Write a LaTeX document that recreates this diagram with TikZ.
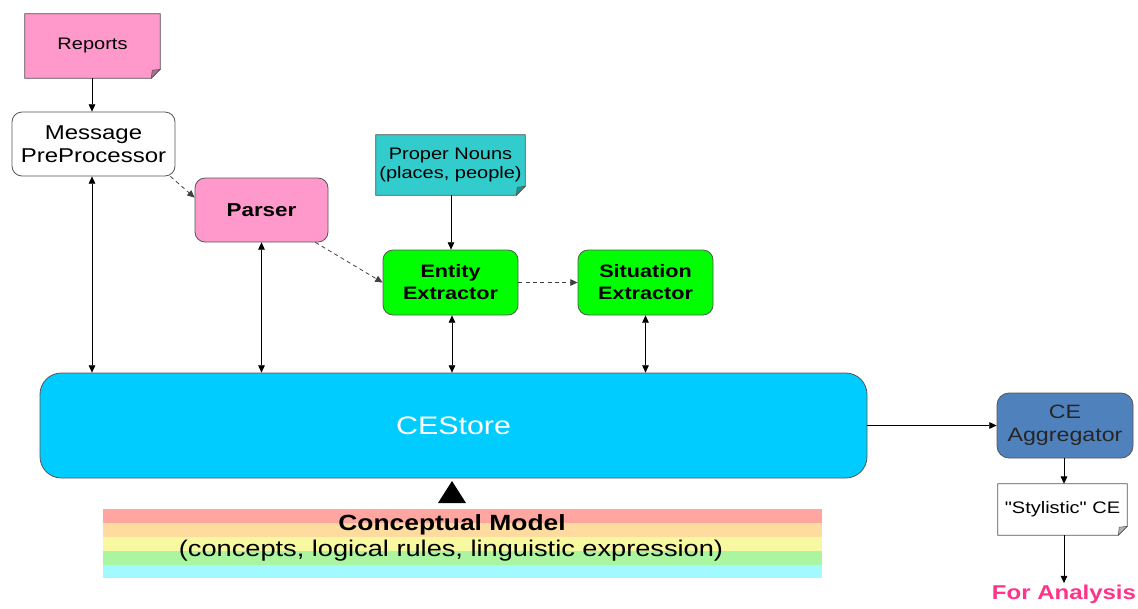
\documentclass[tikz,border=0pt]{standalone}
\usepackage{fontspec}
\setmainfont{Liberation Sans}[FakeStretch=1.2]
% same face without the TeX quote mapping, so " stays a straight quote
\newfontfamily\rawfont{Liberation Sans}[FakeStretch=1.2]
\usetikzlibrary{arrows.meta,calc,backgrounds}

\definecolor{pinkfill}{HTML}{FF99CC}
\definecolor{tealfill}{HTML}{33CCCC}
\definecolor{greenfill}{HTML}{00FF00}
\definecolor{storefill}{HTML}{00CCFF}
\definecolor{aggfill}{HTML}{4F81BD}
\definecolor{analysis}{HTML}{FF3388}
\definecolor{edge}{HTML}{555555}
\definecolor{bandA}{HTML}{FFA6A0}
\definecolor{bandB}{HTML}{FFDBA0}
\definecolor{bandC}{HTML}{F8F8A0}
\definecolor{bandD}{HTML}{A9F5A0}
\definecolor{bandE}{HTML}{A0FAFF}

\tikzset{
  box/.style={draw=edge, line width=0.6pt, rounded corners=7.5pt, align=center,
    inner sep=0pt},
  docnode/.style={align=center, inner sep=0pt},
  docshape/.style={draw=edge, line width=0.6pt},
  link/.style={-{Triangle[length=5.5pt,width=5pt]}, line width=0.6pt, black},
  dlink/.style={{Triangle[length=5.5pt,width=5pt]}-{Triangle[length=5.5pt,width=5pt]}, line width=0.6pt, black},
  dashlink/.style={link, dashed, dash pattern=on 3pt off 2.5pt, draw=black!75},
}

% folded-corner document outline drawn behind a node
\newcommand{\docoutline}[2]{%
  \begin{scope}[on background layer]
    \path[docshape, fill=#2] (#1.north west) -- (#1.north east)
      -- ($(#1.south east)+(0,-9)$) -- ($(#1.south east)+(-9,0)$)
      -- (#1.south west) -- cycle;
    \path[docshape, fill=#2!70!black, line width=0.4pt] ($(#1.south east)+(0,-9)$)
      -- ($(#1.south east)+(-9,0)$) -- ($(#1.south east)+(-8,-8)$) -- cycle;
  \end{scope}}

\begin{document}
\begin{tikzpicture}[x=0.75pt, y=-0.75pt]
\useasboundingbox (0,0) rectangle (1138,608);

% sources and processing steps
\node[docnode, minimum width=135*0.75pt, minimum height=64*0.75pt,
  font=\fontsize{12.5}{14}\selectfont] (rep) at (92.5,46) {\raisebox{4pt}{Reports}};
\docoutline{rep}{pinkfill}

\node[box, fill=white, minimum width=163*0.75pt, minimum height=64*0.75pt,
  font=\fontsize{15}{17}\selectfont] (mp) at (93.5,144) {Message\\PreProcessor};

\node[box, fill=pinkfill, minimum width=133*0.75pt, minimum height=64*0.75pt,
  font=\fontsize{14}{17}\selectfont\bfseries] (parser) at (261.5,210) {Parser};

\node[docnode, minimum width=149*0.75pt, minimum height=60*0.75pt,
  font=\fontsize{12.5}{15}\selectfont] (pn) at (450.5,165) {\raisebox{2pt}{\shortstack{Proper Nouns\\(places, people)}}};
\docoutline{pn}{tealfill}

\node[box, fill=greenfill, minimum width=135*0.75pt, minimum height=65*0.75pt,
  font=\fontsize{13.5}{16.5}\selectfont\bfseries] (ent) at (450.5,282.5) {Entity\\Extractor};

\node[box, fill=greenfill, minimum width=135*0.75pt, minimum height=65*0.75pt,
  font=\fontsize{13.5}{16.5}\selectfont\bfseries] (sit) at (645.5,282.5) {Situation\\Extractor};

% central store
\node[box, fill=storefill, rounded corners=16pt, minimum width=827*0.75pt,
  minimum height=105*0.75pt, text=white, font=\fontsize{19}{22}\selectfont]
  (ce) at (453.5,425.5) {CEStore};

% output side
\node[box, fill=aggfill, rounded corners=9pt, minimum width=136*0.75pt,
  minimum height=65*0.75pt, text=black!85, font=\fontsize{14.5}{17}\selectfont]
  (agg) at (1065,425.5) {CE\\Aggregator};

\node[docnode, minimum width=129*0.75pt, minimum height=51*0.75pt,
  font=\rawfont\fontsize{12.5}{15}\selectfont] (sty) at (1062.5,509.5)
  {\raisebox{2pt}{"Stylistic" CE}};
\docoutline{sty}{white}

\node[inner sep=1pt, text=analysis, font=\fontsize{15}{18}\selectfont\bfseries]
  (fa) at (1064,594) {For Analysis};

% conceptual model bands
\fill[bandA] (103,509) rectangle (822,523);
\fill[bandB] (103,523) rectangle (822,537);
\fill[bandC] (103,537) rectangle (822,551);
\fill[bandD] (103,551) rectangle (822,565);
\fill[bandE] (103,565) rectangle (822,578);
\node[font=\fontsize{16.5}{19}\selectfont\bfseries, inner sep=0pt] (cm) at (452,525) {Conceptual Model};
\node[font=\fontsize{17}{19}\selectfont, inner sep=0pt] (cmsub) at (451,551)
  {(concepts, logical rules, linguistic expression)};

% marker pointing from the model into the store
\fill[black] (452,481) -- (466,503) -- (438,503) -- cycle;

% flow connectors
\draw[link] (rep.south -| 92,0) -- (mp.north -| 92,0);
\draw[dashlink] ($(mp.south east)+(-5,0)$) -- ($(parser.north west)+(0,20)$);
\draw[dashlink] ($(parser.south east)+(-13,0)$) -- (ent.west);
\draw[dashlink] (ent.east) -- (sit.west);
\draw[link] (pn.south -| 451,0) -- (ent.north -| 451,0);

% store access
\draw[dlink] (mp.south -| 92,0) -- (ce.north -| 92,0);
\draw[dlink] (parser.south) -- (parser.south |- ce.north);
\draw[dlink] (ent.south -| 452,0) -- (ce.north -| 452,0);
\draw[dlink] (sit.south) -- (sit.south |- ce.north);

% output chain
\draw[link] (ce.east) -- (agg.west);
\draw[link] (agg.south -| 1064,0) -- (sty.north -| 1064,0);
\draw[link] (sty.south -| 1064,0) -- (fa.north -| 1064,0);
\end{tikzpicture}
\end{document}
